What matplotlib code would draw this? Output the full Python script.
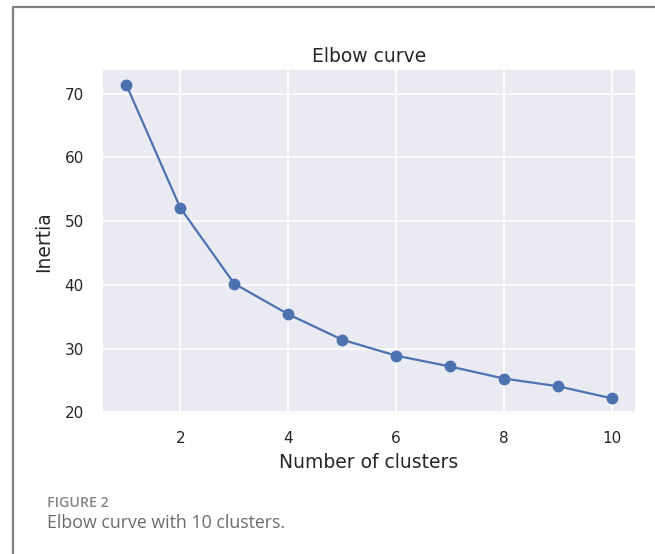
import matplotlib
matplotlib.use('Agg')
import matplotlib.pyplot as plt
from matplotlib.patches import Rectangle
import seaborn as sns

# values
clusters = [1, 2, 3, 4, 5, 6, 7, 8, 9, 10]
inertia = [71.4, 52.1, 40.2, 35.4, 31.4, 28.9, 27.2, 25.3, 24.1, 22.2]

sns.set_theme(style='darkgrid')
plt.rcParams['font.family'] = ['DejaVu Sans']

fig = plt.figure(figsize=(6.55, 5.54), dpi=100)
fig.patch.set_facecolor('white')

ax = fig.add_axes([102 / 655, 1 - 414 / 554, 534 / 655, 345 / 554])
ax.plot(clusters, inertia, '-o', color='#4C72B0', linewidth=1.6, markersize=7.5)

ax.set_title('Elbow curve', fontsize=13.5, pad=5, color='#262626')
ax.set_xlabel('Number of clusters', fontsize=13.5, labelpad=5, color='#262626')
ax.set_ylabel('Inertia', fontsize=13.5, labelpad=8, color='#262626')
ax.tick_params(axis='x', labelsize=11, pad=12.5, length=0, colors='#262626')
ax.tick_params(axis='y', labelsize=11, pad=13, length=0, colors='#262626')
ax.set_xticks([2, 4, 6, 8, 10])
ax.grid(True, color='white', linewidth=1.2)

# frame around the figure panel (top and left edges visible)
fig.add_artist(Rectangle((13 / 655, -0.2), 1.2, 1.2 - 7 / 554,
                         transform=fig.transFigure, fill=False,
                         edgecolor='#7f7f7f', linewidth=1.6, clip_on=False))

fig.text(47 / 655, 1 - 503 / 554, 'FIGURE 2', fontsize=10.2, color='#858585',
         family='Open Sans', fontweight='semibold', va='center', ha='left')
fig.text(47 / 655, 1 - 523 / 554, 'Elbow curve with 10 clusters.', fontsize=12.8,
         color='#6b6b6b', family='Open Sans', va='center', ha='left')

fig.savefig('out.png', dpi=100, facecolor='white')
